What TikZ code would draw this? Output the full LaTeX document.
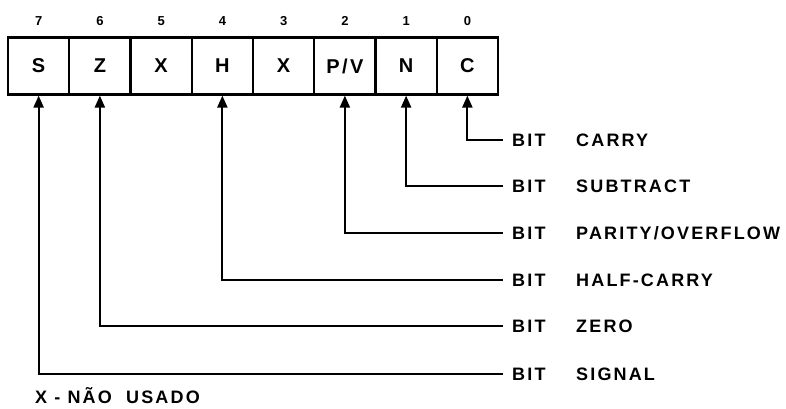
\documentclass[tikz,border=0pt]{standalone}
\usepackage{fontspec}
\setmainfont{Liberation Sans}
\newfontfamily\spacedfamily{Liberation Sans}[LetterSpace=12]
\usetikzlibrary{arrows.meta}
\newcommand\cellfont{\spacedfamily\bfseries\fontsize{20}{22}\selectfont}
\newcommand\lblfont{\spacedfamily\bfseries\fontsize{18}{20}\selectfont}
\newcommand\digitfont{\bfseries\fontsize{13}{15}\selectfont}
\tikzset{
  cell/.style={draw, line width=2.2pt, minimum width=61.25pt, minimum height=57pt,
    inner sep=0pt, font=\cellfont},
  digit/.style={inner sep=0pt, font=\digitfont},
  feed/.style={line width=2.2pt, {Triangle[width=10pt,length=12pt]}-},
  bitlbl/.style={anchor=west, inner ysep=0pt, inner xsep=9pt, text height=13pt,
    text depth=0pt, font=\lblfont},
  namelbl/.style={anchor=west, inner sep=0pt, text height=13pt, text depth=0pt,
    font=\lblfont},
}
\begin{document}
\begin{tikzpicture}[x=1pt,y=-1pt]
  \useasboundingbox (0,0) rectangle (786,408);
  % flag register
  \foreach \b/\t [count=\i from 0] in {7/S,6/Z,5/X,4/H,3/X,2/{P/V},1/N,0/C} {
    \node[cell] (c\b) at ({8+61.25*\i+30.625},66) {\t};
    \node[digit] (d\b) at ([yshift=45pt]c\b.center) {\b};
  }
  % bit names
  \foreach \b/\y/\t in {0/140/CARRY,1/186/SUBTRACT,2/233/{PARITY/OVERFLOW},
      4/280/HALF-CARRY,6/326/ZERO,7/374/SIGNAL} {
    \node[bitlbl] (bit\b) at (503,\y) {BIT};
    \node[namelbl] (name\b) at (576,\y) {\t};
    \draw[feed] (c\b.south) |- (bit\b.west);
  }
  \node[namelbl] (note) at (35,397) {X - NÃO\ \ USADO};
\end{tikzpicture}
\end{document}
